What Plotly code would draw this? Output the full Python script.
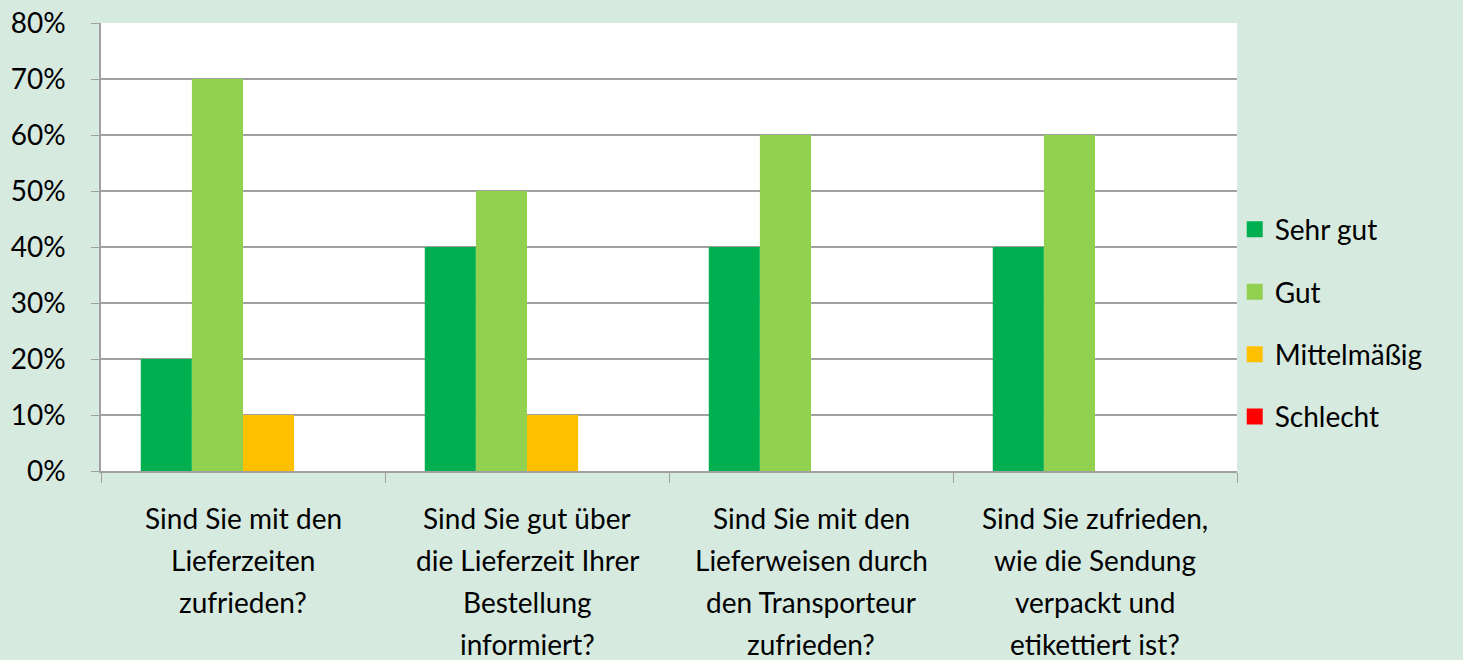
import plotly.graph_objects as go

categories = ["Q1", "Q2", "Q3", "Q4"]
label_lines = [
    ["Sind Sie mit den", "Lieferzeiten", "zufrieden?"],
    ["Sind Sie gut über", "die Lieferzeit Ihrer", "Bestellung", "informiert?"],
    ["Sind Sie mit den", "Lieferweisen durch", "den Transporteur", "zufrieden?"],
    ["Sind Sie zufrieden,", "wie die Sendung", "verpackt und", "etikettiert ist?"],
]
series_names = ["Sehr gut", "Gut", "Mittelmäßig", "Schlecht"]
sehr_gut = [0.20, 0.40, 0.40, 0.40]
gut = [0.70, 0.50, 0.60, 0.60]
mittel = [0.10, 0.10, 0.0, 0.0]
schlecht = [0.0, 0.0, 0.0, 0.0]
colors = ["#00B050", "#92D050", "#FFC000", "#FF0000"]
y_ticks = [0, 0.1, 0.2, 0.3, 0.4, 0.5, 0.6, 0.7, 0.8]

FONT = "Lato"
FS = 28
BG = "#D7EAE0"
GRID = "#A0A0A0"

fig = go.Figure()
for i, (name, vals) in enumerate(zip(series_names, [sehr_gut, gut, mittel, schlecht])):
    fig.add_trace(go.Bar(x=categories, y=vals, name=name, marker_color=colors[i],
                         marker_line_width=0, showlegend=False))
# legend entries with larger square swatches
for i, name in enumerate(series_names):
    fig.add_trace(go.Scatter(x=[None], y=[None], mode="markers", name=name,
                             marker=dict(symbol="square", size=20, color=colors[i]),
                             legendgroup=name, showlegend=True))

annotations = []
for cat, lines in zip(categories, label_lines):
    for j, line in enumerate(lines):
        annotations.append(dict(x=cat, y=0, xref="x", yref="y", text=line, showarrow=False,
                                yanchor="middle", xanchor="center", yshift=-(47 + 42 * j),
                                font=dict(family=FONT, size=FS, color="#000000")))

fig.update_layout(
    width=1463, height=660,
    margin=dict(l=101, r=226, t=23, b=189, autoexpand=False),
    paper_bgcolor=BG, plot_bgcolor="#FFFFFF",
    barmode="group", bargap=0.28, bargroupgap=0,
    font=dict(family=FONT, size=FS, color="#000000"),
    legend=dict(x=0.998, y=0.33, xanchor="left", yanchor="middle",
                traceorder="grouped", tracegroupgap=23,
                font=dict(family=FONT, size=FS, color="#000000"),
                bgcolor="rgba(0,0,0,0)"),
    annotations=annotations,
)
fig.update_xaxes(showticklabels=False, tickson="boundaries", ticks="outside", ticklen=10,
                 tickcolor=GRID, showline=True, linecolor=GRID, linewidth=1.5,
                 showgrid=False, zeroline=False, automargin=False)
fig.update_yaxes(range=[0, 0.8], tickvals=y_ticks, tickformat=".0%", ticks="outside",
                 ticklen=8, tickcolor=GRID, showline=True, linecolor=GRID, linewidth=1.5,
                 showgrid=True, gridcolor=GRID, gridwidth=1.5, zeroline=False,
                 ticklabelstandoff=20, tickfont=dict(family=FONT, size=FS), automargin=False)
fig.write_html("out.html", config={"displayModeBar": False},
               post_script="document.body.style.margin='0';document.body.style.overflow='hidden';")
